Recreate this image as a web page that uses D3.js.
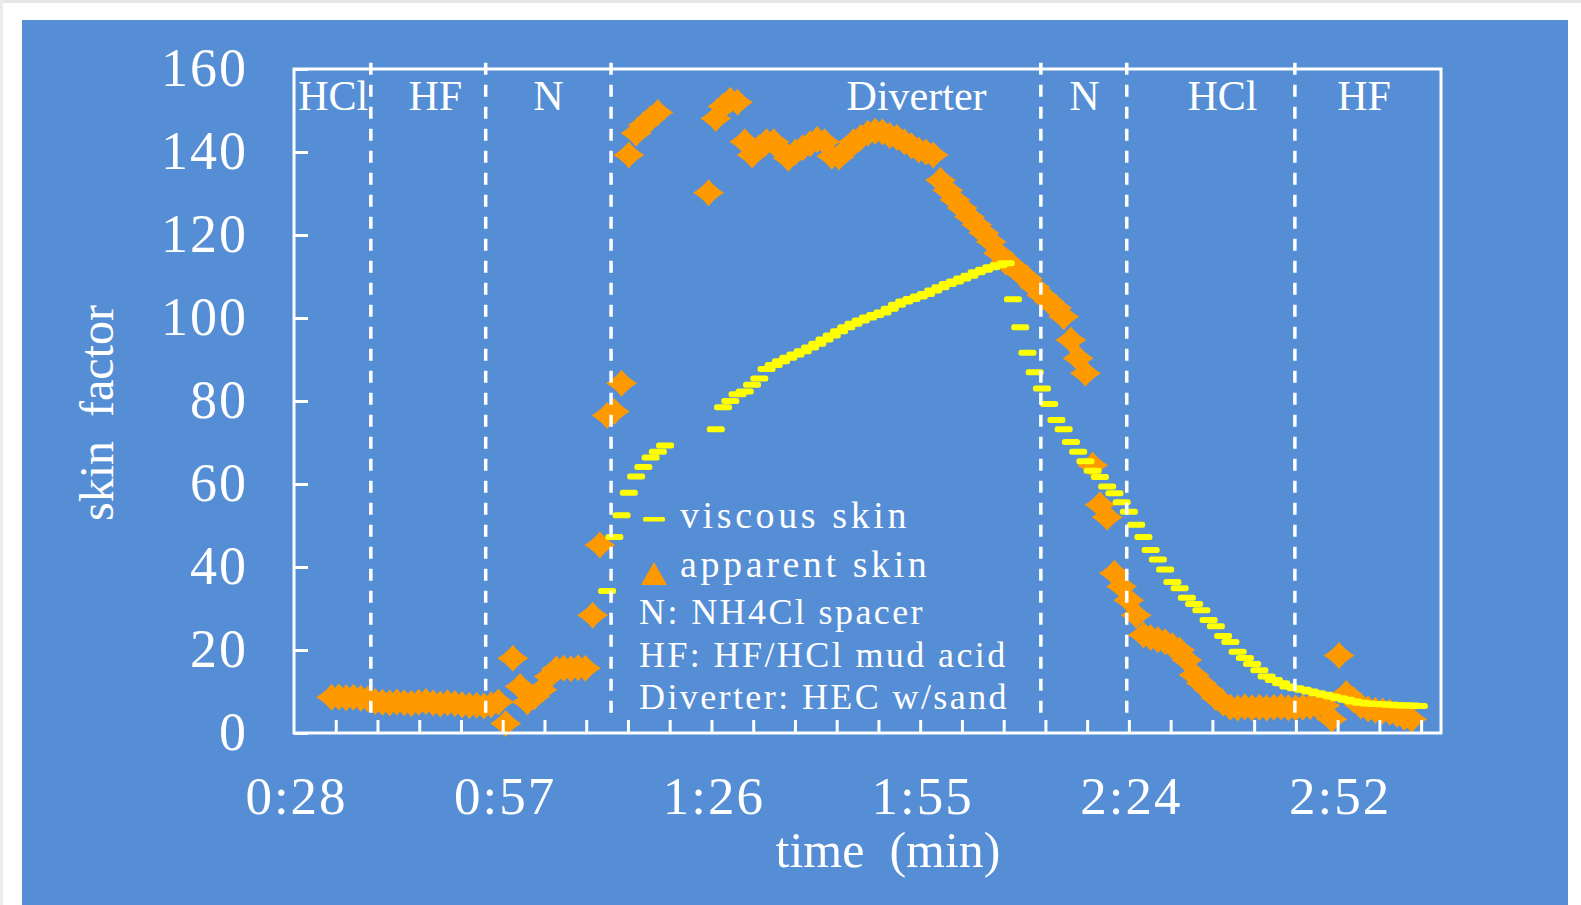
<!DOCTYPE html>
<html lang="en">
<head>
    <meta charset="UTF-8">
    <title>skin factor</title>
    <script src="https://d3js.org/d3.v7.min.js"></script>
    <style>
        * { margin: 0; padding: 0; box-sizing: border-box; }
        body { background: #fff; font-family: "Liberation Serif", "Times New Roman", serif; }
        svg text { fill: #fff; }
    </style>
</head>
<body>
    <div id="chart"></div>
    <script>
        // time in minutes, skin factor
        const apparentSkin = [
            [34, 8.6], [35, 8.7], [36, 8.5], [37, 8.6], [38, 8.4], [39, 8.2], [40, 7.6], [41, 7.4],
            [42, 7.2], [43, 7.5], [44, 7.3], [45, 7.1], [46, 7.4], [47, 7.6], [48, 7.2], [49, 7.0],
            [50, 7.3], [51, 7.1], [52, 6.8], [53, 6.6], [54, 6.7], [55, 6.5], [56, 6.8], [57, 7.5],
            [58, 2.3], [59, 18.0], [60, 11.2], [61, 7.5], [62, 8.8], [63, 10.4], [64, 13.6], [65, 15.4],
            [66, 15.6], [67, 15.5], [68, 15.7], [69, 15.6], [70, 28.4], [71, 45.3], [72, 76.5], [73, 77.5],
            [74, 84.3], [75, 139.3], [76, 144.5], [77, 146.5], [78, 148], [79, 149.5],
            [86, 130.2], [87, 148.1], [88, 151], [89, 152.5], [90, 152], [91, 142.5], [92, 139.3], [93, 141],
            [94, 142.5], [95, 142.5], [96, 140.5], [97, 138.5], [98, 140], [99, 141], [100, 142], [101, 143],
            [102, 142.5], [103, 139], [104, 138.8], [105, 140.5], [106, 142.5], [107, 143.5], [108, 144.5], [109, 145],
            [110, 144.8], [111, 144], [112, 143.5], [113, 142.5], [114, 141.5], [115, 140.5], [116, 140], [117, 139.3],
            [118, 133.2], [119, 130.8], [120, 128.5], [121, 126.5], [122, 124.4], [123, 122.5], [124, 120.5], [125, 118.4],
            [126, 115.6], [127, 113.5], [128, 112.5], [129, 110.8], [130, 109.5], [131, 107.5], [132, 105.5], [133, 104],
            [134, 102.5], [135, 100.3], [136, 94.7], [137, 90.3], [138, 86.7], [139, 64.5], [140, 55], [141, 52],
            [142, 38.5], [143, 35.3], [144, 32], [145, 28.4], [146, 23.6], [147, 23], [148, 22.5], [149, 22],
            [150, 21], [151, 20], [152, 17.6], [153, 14], [154, 12], [155, 10.4], [156, 8.5], [157, 7.2],
            [158, 6.2], [159, 6.0], [160, 6.3], [161, 6.1], [162, 6.2], [163, 6.0], [164, 6.2], [165, 6.3],
            [166, 6.1], [167, 6.0], [168, 6.2], [169, 6.4], [170, 6.5], [171, 6.6], [172, 3.3], [173, 18.7],
            [174, 9.5], [175, 8], [176, 6.5], [177, 5.8], [178, 5.5], [179, 5.3], [180, 5], [181, 4.5],
            [182, 3.8], [183, 3.3]
        ];

        const viscousSkin = [
            [72, 34.2], [73, 47.2], [74, 52.5], [75, 57.9], [76, 61.8], [77, 64.1], [78, 66.4], [79, 67.8],
            [80, 69.3],
            [87, 73.2], [88, 78.5], [89, 80.0], [90, 81.6], [91, 82.3], [92, 83.9], [93, 85.4], [94, 87.7],
            [95, 88.7], [96, 89.6], [97, 90.4], [98, 91.2], [99, 92.0], [100, 92.9], [101, 93.8], [102, 94.8],
            [103, 95.8], [104, 96.8], [105, 97.8], [106, 98.6], [107, 99.4], [108, 100.1], [109, 100.7], [110, 101.3],
            [111, 102.2], [112, 103.2], [113, 104.0], [114, 104.6], [115, 105.2], [116, 105.8], [117, 106.6], [118, 107.4],
            [119, 108.2], [120, 108.8], [121, 109.5], [122, 110.2], [123, 111.0], [124, 111.6], [125, 112.2], [126, 112.7],
            [127, 113.2], [128, 104.5], [129, 97.8], [130, 91.6], [131, 86.9], [132, 83.0], [133, 79.3], [134, 75.4],
            [135, 73.2], [136, 70.1], [137, 67.8], [138, 65.5], [139, 63.2], [140, 61.7], [141, 59.4], [142, 57.8],
            [143, 55.6], [144, 53.3], [145, 50.2], [146, 47.2], [147, 44.1], [148, 41.8], [149, 39.4], [150, 36.4],
            [151, 34.9], [152, 32.6], [153, 31.1], [154, 29.6], [155, 27.2], [156, 25.7], [157, 23.4], [158, 21.9],
            [159, 19.6], [160, 18.1], [161, 16.6], [162, 15.1], [163, 13.6], [164, 12.8], [165, 12.0], [166, 11.2],
            [167, 10.8], [168, 10.4], [169, 10.0], [170, 9.6], [171, 9.2], [172, 8.8], [173, 8.4], [174, 8.0],
            [175, 7.6], [176, 7.3], [177, 7.1], [178, 7.0], [179, 6.9], [180, 6.8], [181, 6.7], [182, 6.6],
            [183, 6.6], [184, 6.5]
        ];

        // stage boundaries (min) and stage names
        const stageBounds = [39.4, 55.25, 72.55, 131.85, 143.7, 166.9];
        const stageNames = ["HCl", "HF", "N", "Diverter", "N", "HCl", "HF"];
        const stageLabelAt = [34.2, 48.3, 63.9, 114.7, 137.85, 156.9, 176.45];

        const xTickValues = [28.8, 57.6, 86.4, 115.2, 144, 172.8];
        const xTickLabels = ["0:28", "0:57", "1:26", "1:55", "2:24", "2:52"];
        const yTickValues = [0, 20, 40, 60, 80, 100, 120, 140, 160];

        const legendSeries = ["viscous skin", "apparent skin"];
        const legendNotes = ["N: NH4Cl spacer", "HF: HF/HCl mud acid", "Diverter: HEC w/sand"];

        const W = 1581, H = 905;
        const plot = { left: 294, top: 69, right: 1441, bottom: 733 };

        const svg = d3.select("#chart").append("svg")
            .attr("width", W).attr("height", H);

        // page frame
        svg.append("rect").attr("width", W).attr("height", 3).attr("fill", "#e6e6e6");
        svg.append("rect").attr("width", 3).attr("height", H).attr("fill", "#ececec");
        svg.append("rect").attr("x", 22).attr("y", 20)
            .attr("width", 1546).attr("height", H - 20).attr("fill", "#558ed5");

        const x = d3.scaleLinear().domain([28.8, 187.2]).range([plot.left, plot.right + 1]);
        const y = d3.scaleLinear().domain([0, 160]).range([plot.bottom, plot.top]);

        // diamond marker, sides slightly pinched
        const a = 15.5, b = 13.5, k = 0.4;
        const diamond = `M0,${-b}Q${k * a},${-k * b} ${a},0Q${k * a},${k * b} 0,${b}` +
                        `Q${-k * a},${k * b} ${-a},0Q${-k * a},${-k * b} 0,${-b}Z`;

        svg.append("g")
            .selectAll("path")
            .data(apparentSkin)
            .join("path")
            .attr("d", diamond)
            .attr("transform", d => `translate(${x(d[0])},${y(d[1])})`)
            .attr("fill", "#ff9900");

        svg.append("g")
            .selectAll("rect")
            .data(viscousSkin)
            .join("rect")
            .attr("x", d => x(d[0]) - 9)
            .attr("y", d => y(d[1]) - 3)
            .attr("width", 18)
            .attr("height", 6)
            .attr("rx", 2.5)
            .attr("fill", "#ffff00");

        // stage dividers
        svg.append("g")
            .selectAll("line")
            .data(stageBounds)
            .join("line")
            .attr("x1", d => x(d)).attr("x2", d => x(d))
            .attr("y1", y(161.5)).attr("y2", y(3))
            .attr("stroke", "#fff")
            .attr("stroke-width", 3.5)
            .attr("stroke-dasharray", "12,10");

        svg.append("g")
            .selectAll("text")
            .data(stageNames)
            .join("text")
            .attr("x", (d, i) => x(stageLabelAt[i]))
            .attr("y", 110)
            .attr("text-anchor", "middle")
            .style("font-size", "42px")
            .text(d => d);

        // axes
        const minorTicks = d3.range(1, 28).map(i => 28.8 + i * 5.76);
        svg.append("g")
            .attr("transform", `translate(0,${plot.bottom})`)
            .call(d3.axisBottom(x).tickValues(minorTicks).tickSize(-13).tickFormat(""))
            .call(g => g.select(".domain").remove())
            .selectAll("line").attr("stroke", "#fff").attr("stroke-width", 3);

        svg.append("g")
            .attr("transform", `translate(0,${plot.bottom})`)
            .call(d3.axisBottom(x).tickValues(xTickValues).tickSize(0).tickPadding(43)
                .tickFormat((d, i) => xTickLabels[i]))
            .call(g => g.select(".domain").remove())
            .selectAll("text")
            .attr("fill", "#fff")
            .style("font-family", "'Liberation Serif', serif")
            .style("font-size", "53px")
            .style("letter-spacing", "2px")
            .attr("dx", "2px");

        svg.append("g")
            .attr("transform", `translate(${plot.left},0)`)
            .call(d3.axisLeft(y).tickValues(yTickValues).tickSize(-14).tickPadding(46))
            .call(g => g.select(".domain").remove())
            .call(g => g.selectAll("line").attr("stroke", "#fff").attr("stroke-width", 3))
            .selectAll("text")
            .attr("fill", "#fff")
            .attr("dy", "0.3em")
            .style("font-family", "'Liberation Serif', serif")
            .style("font-size", "54px")
            .style("letter-spacing", "2px");

        svg.append("rect")
            .attr("x", plot.left).attr("y", plot.top)
            .attr("width", plot.right - plot.left).attr("height", plot.bottom - plot.top)
            .attr("fill", "none").attr("stroke", "#fff").attr("stroke-width", 3);

        svg.append("text")
            .attr("x", 888).attr("y", 867)
            .attr("text-anchor", "middle")
            .style("font-size", "50px")
            .style("white-space", "pre")
            .text("time  (min)");

        svg.append("text")
            .attr("transform", "translate(113,413) rotate(-90)")
            .attr("text-anchor", "middle")
            .style("font-size", "48px")
            .style("white-space", "pre")
            .text("skin  factor");

        // legend
        const leg = svg.append("g").attr("transform", "translate(639,0)");
        leg.append("rect")
            .attr("x", 4).attr("y", 517).attr("width", 22).attr("height", 4.5).attr("rx", 1.5)
            .attr("fill", "#ffff00");
        leg.append("path")
            .attr("d", "M2,585L15,562L28,585Z")
            .attr("fill", "#ff9900");
        leg.selectAll(".ser")
            .data(legendSeries)
            .join("text")
            .attr("class", "ser")
            .attr("x", 41)
            .attr("y", (d, i) => 528 + i * 49)
            .style("font-size", "38px")
            .style("letter-spacing", "3.6px")
            .text(d => d);
        leg.selectAll(".note")
            .data(legendNotes)
            .join("text")
            .attr("class", "note")
            .attr("x", 0)
            .attr("y", (d, i) => 624 + i * 42.5)
            .style("font-size", "36px")
            .style("letter-spacing", "2.4px")
            .text(d => d);
    </script>
</body>
</html>
